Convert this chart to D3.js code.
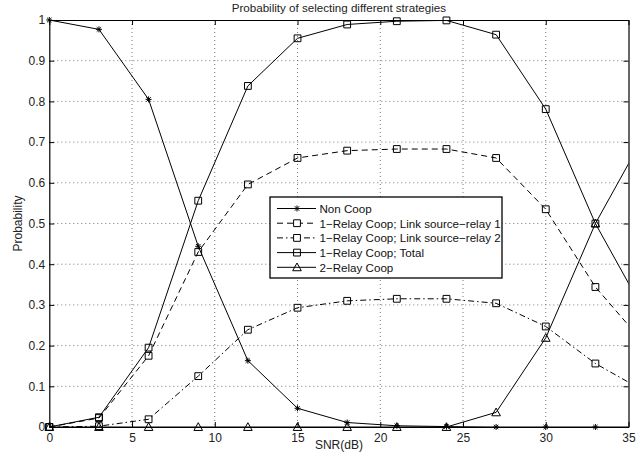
<!DOCTYPE html>
<html>
<head>
<meta charset="utf-8">
<script src="https://cdn.jsdelivr.net/npm/d3@7"></script>
<style>
  body { margin: 0; background: #fff; }
  svg { display: block; font-family: "Liberation Sans", Arial, Helvetica, sans-serif; }
</style>
</head>
<body>
<svg id="chart" width="644" height="460"></svg>
<script>
// SNR points (last one lies past the axis and is clipped, like the original plot)
var snr       = [0, 3, 6, 9, 12, 15, 18, 21, 24, 27, 30, 33, 36];
var nonCoop   = [1, 0.977, 0.805, 0.444, 0.163, 0.046, 0.011, 0.003, 0.001, 0, 0, 0, 0];
var link1     = [0, 0.022, 0.175, 0.43, 0.596, 0.661, 0.679, 0.683, 0.683, 0.661, 0.535, 0.344, 0.203];
var link2     = [0, 0.002, 0.019, 0.125, 0.239, 0.293, 0.31, 0.315, 0.315, 0.304, 0.247, 0.156, 0.087];
var total     = [0, 0.024, 0.195, 0.556, 0.838, 0.955, 0.989, 0.997, 0.999, 0.964, 0.781, 0.5, 0.28];
var twoRelay  = [0, 0, 0, 0, 0, 0, 0, 0, 0, 0.036, 0.219, 0.5, 0.72];

var xTicks = [0, 5, 10, 15, 20, 25, 30, 35];
var yTicks = [0, 0.1, 0.2, 0.3, 0.4, 0.5, 0.6, 0.7, 0.8, 0.9, 1];

var seriesNames = ["Non Coop", "1\u2212Relay Coop; Link source\u2212relay 1",
  "1\u2212Relay Coop; Link source\u2212relay 2", "1\u2212Relay Coop; Total", "2\u2212Relay Coop"];

var series = [
  {name: seriesNames[0], values: nonCoop,  dash: null,        marker: "star"},
  {name: seriesNames[1], values: link1,    dash: "6,4",       marker: "square"},
  {name: seriesNames[2], values: link2,    dash: "6,3,1.5,3", marker: "square"},
  {name: seriesNames[3], values: total,    dash: null,        marker: "square"},
  {name: seriesNames[4], values: twoRelay, dash: null,        marker: "triangle"}
];

var svg = d3.select("#chart");
// plot box (note: "top" is reserved on window, so use other names)
var pLeft = 49.3, pRight = 628.5, pTop = 20, pBottom = 427;

var x = d3.scaleLinear().domain([0, 35]).range([pLeft, pRight]);
var y = d3.scaleLinear().domain([0, 1]).range([pBottom, pTop]);

// grid
var grid = svg.append("g")
  .attr("stroke", "#555")
  .attr("stroke-width", 0.8)
  .attr("stroke-dasharray", "1,3");
grid.selectAll("line.gx").data(xTicks.slice(1, -1)).join("line")
  .attr("x1", d => x(d)).attr("x2", d => x(d))
  .attr("y1", pTop).attr("y2", pBottom);
grid.selectAll("line.gy").data(yTicks.slice(1, -1)).join("line")
  .attr("x1", pLeft).attr("x2", pRight)
  .attr("y1", d => y(d)).attr("y2", d => y(d));

// axes, ticks inward on all four sides
var tickLen = 5;
svg.append("g").attr("transform", `translate(0,${pBottom})`)
  .call(d3.axisBottom(x).tickValues(xTicks).tickSizeInner(-tickLen).tickSizeOuter(0).tickPadding(6).tickFormat(d3.format("d")));
svg.append("g").attr("transform", `translate(0,${pTop})`)
  .call(d3.axisTop(x).tickValues(xTicks).tickSizeInner(-tickLen).tickSizeOuter(0).tickFormat(""));
svg.append("g").attr("transform", `translate(${pLeft},0)`)
  .call(d3.axisLeft(y).tickValues(yTicks).tickSizeInner(-tickLen).tickSizeOuter(0).tickPadding(4)
    .tickFormat(d => d === 0 || d === 1 ? d3.format("d")(d) : d3.format(".1f")(d)));
svg.append("g").attr("transform", `translate(${pRight},0)`)
  .call(d3.axisRight(y).tickValues(yTicks).tickSizeInner(-tickLen).tickSizeOuter(0).tickFormat(""));

svg.selectAll(".domain").attr("stroke", "#000").attr("stroke-width", 1.2);
svg.selectAll(".tick line").attr("stroke", "#000");
svg.selectAll(".tick text").attr("font-size", 12).attr("fill", "#222")
  .attr("font-family", "Liberation Sans, Arial, sans-serif");

// curves
svg.append("clipPath").attr("id", "plotClip")
  .append("rect").attr("x", pLeft).attr("y", pTop)
  .attr("width", pRight - pLeft).attr("height", pBottom - pTop);

var line = d3.line().x(d => x(d[0])).y(d => y(d[1]));

function markerPath(type, cx, cy) {
  if (type === "star") {
    var r = 3, s = 2.2;
    return `M${cx - r},${cy}L${cx + r},${cy}M${cx},${cy - r}L${cx},${cy + r}` +
      `M${cx - s},${cy - s}L${cx + s},${cy + s}M${cx - s},${cy + s}L${cx + s},${cy - s}`;
  }
  if (type === "square") {
    var h = 3.4;
    return `M${cx - h},${cy - h}h${2 * h}v${2 * h}h${-2 * h}Z`;
  }
  var t = 4.3;
  return `M${cx},${cy - t}L${cx + t},${cy + t * 0.8}L${cx - t},${cy + t * 0.8}Z`;
}

var plot = svg.append("g");
series.forEach(function (s) {
  var pts = snr.map((v, i) => [v, s.values[i]]);
  plot.append("path")
    .attr("clip-path", "url(#plotClip)")
    .attr("d", line(pts))
    .attr("fill", "none")
    .attr("stroke", "#000")
    .attr("stroke-width", 1)
    .attr("stroke-dasharray", s.dash);
  plot.selectAll(null).data(pts.filter(p => p[0] <= 35)).join("path")
    .attr("d", p => markerPath(s.marker, x(p[0]), y(p[1])))
    .attr("fill", "none")
    .attr("stroke", "#000")
    .attr("stroke-width", 1);
});

// legend
var lg = svg.append("g").attr("transform", "translate(270,197)");
lg.append("rect").attr("width", 232).attr("height", 81)
  .attr("fill", "#fff").attr("stroke", "#000").attr("stroke-width", 1.3);
var rows = lg.selectAll("g.row").data(series).join("g")
  .attr("transform", (d, i) => `translate(0,${11.5 + i * 14.7})`);
rows.append("line").attr("x1", 7).attr("x2", 46).attr("y1", 0).attr("y2", 0)
  .attr("stroke", "#000").attr("stroke-dasharray", d => d.dash);
rows.append("path").attr("d", d => markerPath(d.marker, 27, 0))
  .attr("fill", d => d.dash ? "#fff" : "none").attr("stroke", "#000");
rows.append("text").attr("x", 49.5).attr("y", 4.3)
  .attr("font-size", 11.6).attr("fill", "#111")
  .text(d => d.name);

// titles
svg.append("text").attr("x", (pLeft + pRight) / 2).attr("y", 11.5)
  .attr("text-anchor", "middle").attr("font-size", 11.6).attr("fill", "#222")
  .text("Probability of selecting different strategies");
svg.append("text").attr("x", (pLeft + pRight) / 2).attr("y", 449)
  .attr("text-anchor", "middle").attr("font-size", 12).attr("fill", "#222")
  .text("SNR(dB)");
svg.append("text").attr("transform", `translate(22,${(pTop + pBottom) / 2}) rotate(-90)`)
  .attr("text-anchor", "middle").attr("font-size", 12).attr("fill", "#222")
  .text("Probability");
</script>
</body>
</html>
